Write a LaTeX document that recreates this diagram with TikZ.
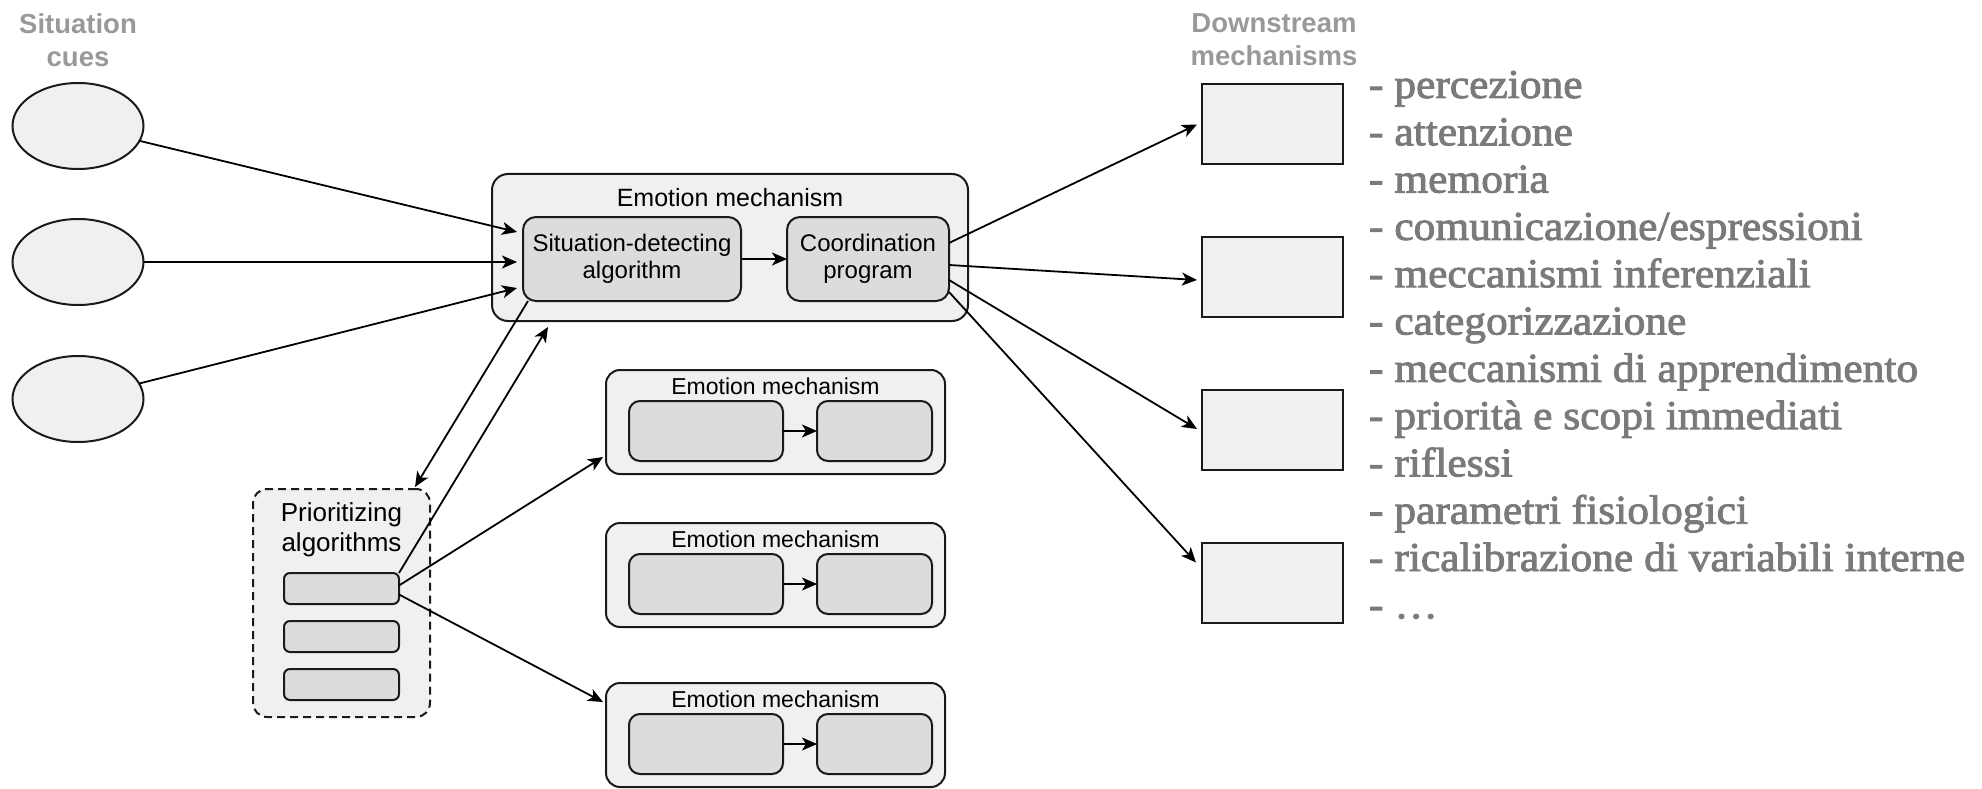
\documentclass[tikz,border=0pt]{standalone}
\usepackage{fontspec}
\setmainfont{Liberation Sans}
\newfontfamily\listfont{Liberation Serif}[FakeStretch=1.06,FakeBold=2.2]
\usetikzlibrary{shapes.geometric,arrows.meta}
\definecolor{paneFill}{HTML}{F0F0F0}
\definecolor{innerFill}{HTML}{DCDCDC}
\definecolor{headGray}{HTML}{999999}
\definecolor{listGray}{HTML}{7A7A7A}
\definecolor{lineCol}{HTML}{1A1A1A}

\begin{document}
\begin{tikzpicture}[x=1pt,y=-1pt,
  every node/.style={inner sep=0pt, outer sep=0pt},
  arr/.style={draw=black, line width=1.8pt, -{Stealth[length=15pt,width=13pt,inset=4pt]}},
  cue/.style={ellipse, draw=lineCol, fill=paneFill, line width=2pt,
    minimum width=131pt, minimum height=86pt},
  pane/.style={draw=lineCol, fill=paneFill, line width=2pt, rounded corners=16pt},
  inner/.style={draw=lineCol, fill=innerFill, line width=2pt, rounded corners=13pt,
    align=center, font=\fontsize{24}{27}\selectfont},
  slot/.style={draw=lineCol, fill=innerFill, line width=2pt, rounded corners=6pt,
    minimum width=115pt, minimum height=31pt},
  dsbox/.style={draw=lineCol, fill=paneFill, line width=2pt,
    minimum width=141pt, minimum height=80pt},
  head/.style={align=center, text=headGray, font=\fontsize{27.5}{33}\selectfont\bfseries},
  listitem/.style={anchor=base west, text=listGray, font=\listfont\fontsize{41}{47}\selectfont}
]
\useasboundingbox (0,0) rectangle (1982,789);

% column headings
\node[head] (cuelab) at (78,40) {Situation\\cues};
\node[head] (dslab) at (1274,40) {Downstream\\mechanisms};

% situation cues
\node[cue] (e1) at (78,126) {};
\node[cue] (e2) at (78,262) {};
\node[cue] (e3) at (78,399) {};

% main emotion mechanism
\node[pane, minimum width=476pt, minimum height=147pt] (em1) at (730,247.5) {};
\node[font=\fontsize{25}{30}\selectfont] (em1t) at (730,198) {Emotion mechanism};
\node[inner, minimum width=218pt, minimum height=84pt] (sd) at (632,259) {Situation-detecting\\algorithm};
\node[inner, minimum width=162pt, minimum height=84pt] (cp) at (868,259) {Coordination\\program};
\draw[arr] (sd.east) -- (cp.west);

% prioritizing algorithms
\node[pane, dash pattern=on 8pt off 5pt, rounded corners=14pt,
  minimum width=177pt, minimum height=228pt] (prior) at (341.5,603) {};
\node[align=center, font=\fontsize{26}{30}\selectfont] (priort) at (341.5,530) {Prioritizing\\algorithms};
\node[slot] (s1) at (341.5,588.5) {};
\node[slot] (s2) at (341.5,636.5) {};
\node[slot] (s3) at (341.5,684.5) {};

% further emotion mechanisms
\foreach \n/\y in {2/422,3/575,4/735} {
  \node[pane, rounded corners=14pt, minimum width=339pt, minimum height=104pt] (em\n) at (775.5,\y) {};
  \node[font=\fontsize{23}{27}\selectfont] (em\n t) at ([shift={(0,-36)}]em\n.center) {Emotion mechanism};
  \node[inner, rounded corners=11pt, minimum width=154pt, minimum height=60pt] (em\n a) at ([shift={(-69.5,9)}]em\n.center) {};
  \node[inner, rounded corners=11pt, minimum width=115pt, minimum height=60pt] (em\n b) at ([shift={(99,9)}]em\n.center) {};
  \draw[arr] (em\n a.east) -- (em\n b.west);
}

% downstream mechanisms
\foreach \n/\y in {1/124.5,2/277,3/430,4/582.5} {
  \node[dsbox] (ds\n) at (1272.5,\y) {};
}

% list of downstream effects
\foreach \t [count=\i] in {percezione,attenzione,memoria,comunicazione/espressioni,
  meccanismi inferenziali,categorizzazione,meccanismi di apprendimento,
  priorità e scopi immediati,riflessi,parametri fisiologici,
  ricalibrazione di variabili interne,…} {
  \node[listitem] (item\i) at (1369,{98+47.3*(\i-1)}) {- \t};
}

% cue inputs
\coordinate (in1) at ([shift={(-6,-27)}]sd.west);
\coordinate (in2) at ([shift={(-6,3)}]sd.west);
\coordinate (in3) at ([shift={(-6,29)}]sd.west);
\draw[arr] (e1) -- (in1);
\draw[arr] (e2) -- (in2);
\draw[arr] (e3) -- (in3);

% exchange with the prioritizing algorithms
\coordinate (toprior) at ([shift={(-15,-2)}]prior.north east);
\coordinate (toem) at ([shift={(56,6)}]em1.south west);
\draw[arr] ([shift={(5,0)}]sd.south west) -- (toprior);
\draw[arr] (s1.north east) -- (toem);
\coordinate (to2) at ([shift={(-3,35)}]em2.west);
\coordinate (to4) at ([shift={(-3,-33)}]em4.west);
\draw[arr] ([shift={(0,-3)}]s1.east) -- (to2);
\draw[arr] ([shift={(0,6)}]s1.east) -- (to4);

% coordination outputs
\coordinate (out1) at ([shift={(-5,0)}]ds1.west);
\coordinate (out2) at ([shift={(-5,3)}]ds2.west);
\coordinate (out3) at ([shift={(-5,-1)}]ds3.west);
\coordinate (out4) at ([shift={(-6,-20)}]ds4.west);
\draw[arr] ([shift={(0,-16)}]cp.east) -- (out1);
\draw[arr] ([shift={(0,6)}]cp.east) -- (out2);
\draw[arr] ([shift={(0,21)}]cp.east) -- (out3);
\draw[arr] ([shift={(0,33)}]cp.east) -- (out4);
\end{tikzpicture}
\end{document}
